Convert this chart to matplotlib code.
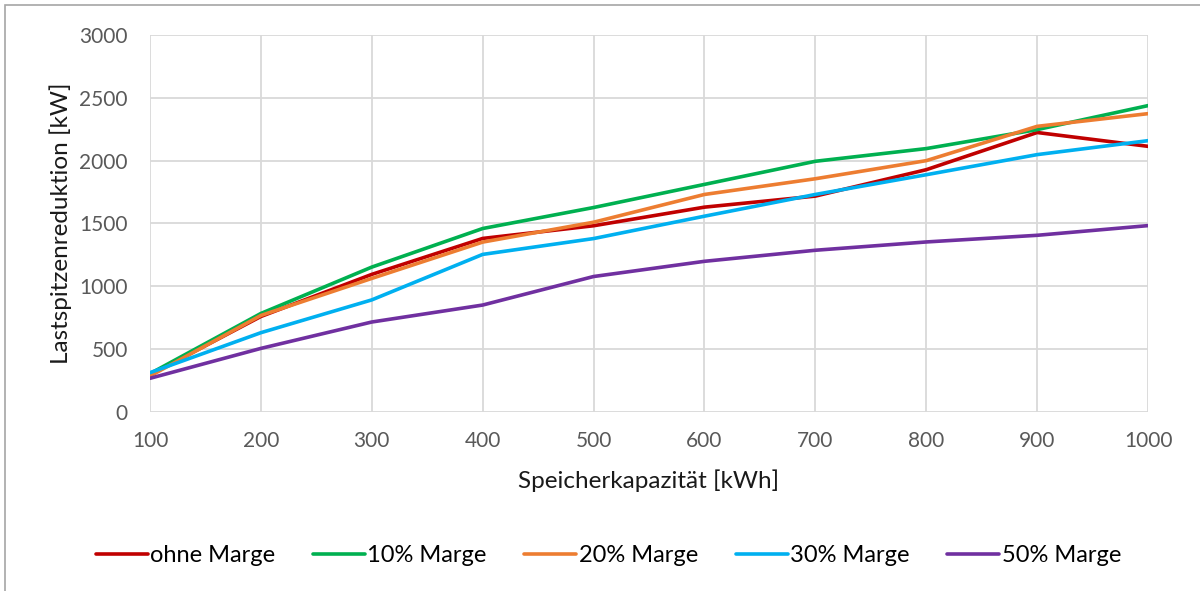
import matplotlib
matplotlib.use("Agg")
import matplotlib.pyplot as plt
from matplotlib.patches import Rectangle

plt.rcParams['font.family'] = ['Lato', 'DejaVu Sans']

kapazitaet = [100, 200, 300, 400, 500, 600, 700, 800, 900, 1000]

ohne_marge = [295, 760, 1095, 1381, 1482, 1630, 1718, 1928, 2224, 2114]
marge_10 = [305, 784, 1153, 1460, 1627, 1811, 1995, 2096, 2247, 2438]
marge_20 = [286, 768, 1063, 1352, 1510, 1731, 1856, 2000, 2273, 2374]
marge_30 = [313, 631, 892, 1254, 1380, 1558, 1731, 1888, 2048, 2159]
marge_50 = [268, 506, 716, 851, 1078, 1199, 1287, 1353, 1406, 1483]

reihen = ["ohne Marge", "10% Marge", "20% Marge", "30% Marge", "50% Marge"]
farben = ["#c00000", "#00b050", "#ed7d31", "#00b0f0", "#7030a0"]

fig = plt.figure(figsize=(12, 5.91), dpi=100)
ax = fig.add_axes([0.125, 0.3029, 0.8317, 0.6379])

for werte, name, farbe in zip([ohne_marge, marge_10, marge_20, marge_30, marge_50], reihen, farben):
    ax.plot(kapazitaet, werte, color=farbe, lw=2.6, label=name, solid_capstyle='round')

ax.set_xlim(100, 1000)
ax.set_ylim(0, 3000)
ax.set_xticks(kapazitaet)
ax.set_yticks(range(0, 3001, 500))
ax.grid(True, color="#d9d9d9", lw=1.3)
ax.set_axisbelow(True)
for s in ax.spines.values():
    s.set_visible(False)
ax.tick_params(length=0, labelsize=15, colors="#595959")
ax.tick_params(axis='y', pad=16)
ax.tick_params(axis='x', pad=14)

ax.set_xlabel("Speicherkapazität [kWh]", fontsize=17.5, color="#1a1a1a", labelpad=13)
ax.set_ylabel("Lastspitzenreduktion [kW]", fontsize=17.5, color="#1a1a1a", labelpad=5)

fig.legend(loc="center", bbox_to_anchor=(0.507, 0.06), ncol=5, frameon=False,
           fontsize=17, handlelength=2.2, handletextpad=0.1, columnspacing=1.6)

# Rahmen des Diagrammbereichs
fig.patches.append(Rectangle((5 / 1200, -0.1), 1.2, 1 - 5 / 591 + 0.1, transform=fig.transFigure,
                             fill=False, edgecolor="#a6a6a6", lw=1.2))

fig.savefig("out.png", dpi=100)
